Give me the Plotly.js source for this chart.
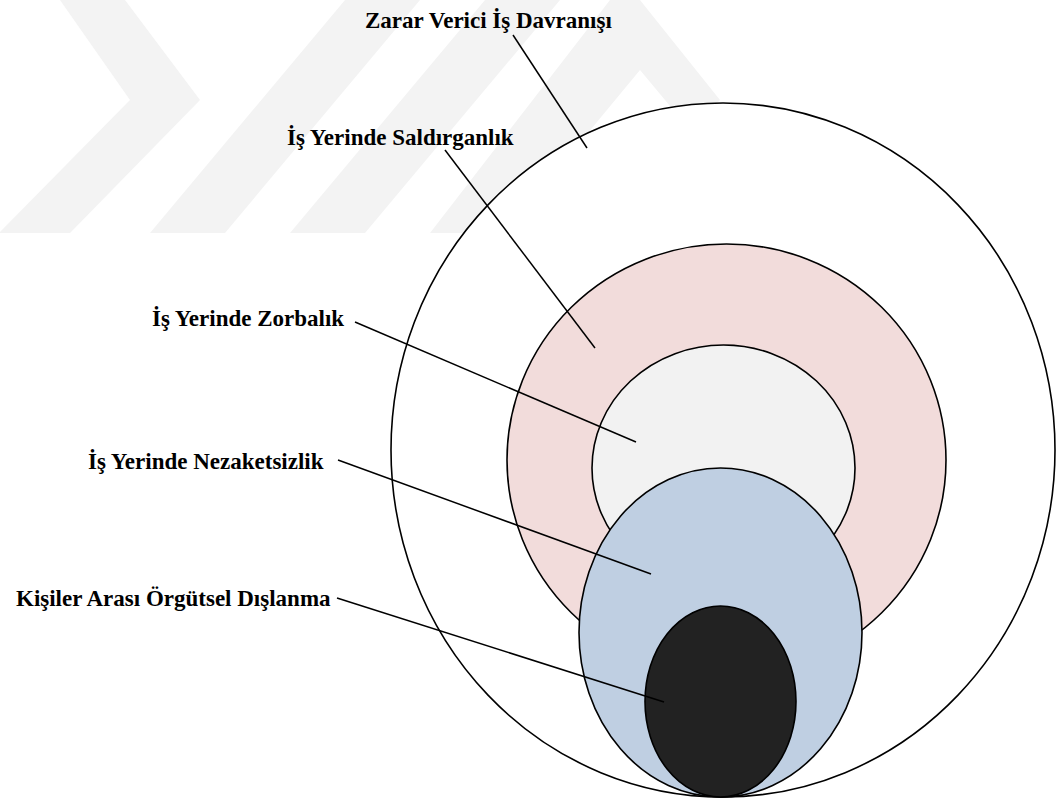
<!DOCTYPE html>
<html>
<head>
<meta charset="utf-8">
<script src="https://cdn.plot.ly/plotly-3.0.1.min.js"></script>
<style>html,body{margin:0;padding:0;background:#fff;}#chart{width:1057px;height:800px;}</style>
</head>
<body>
<div id="chart"></div>
<script>
// Nested concepts (outer to inner)
const labels = ['Zarar Verici İş Davranışı', 'İş Yerinde Saldırganlık', 'İş Yerinde Zorbalık', 'İş Yerinde Nezaketsizlik', 'Kişiler Arası Örgütsel Dışlanma'];
const centerX = [723, 726.5, 723.5, 720.5, 720.5];
const centerY = [450, 460, 468, 632.5, 701.5];
const radiusX = [332, 219.5, 131.5, 141.5, 75.5];
const radiusY = [347, 216, 123, 164.5, 95.5];
const fills = ['#ffffff', '#f2dcdb', '#f2f2f2', '#bfcfe2', '#222222'];

// Label anchor (right edge of text) and leader lines
const labelX = [614, 516, 346, 326, 333];
const labelY = [20, 137, 318, 461, 598];
const lineX0 = [513, 445, 355, 338, 337];
const lineY0 = [35, 150, 322, 460, 598];
const lineX1 = [587, 595, 636, 651, 664];
const lineY1 = [148, 348, 442, 574, 702];

// Background watermark bands (decoration)
const watermark = [
  'M60,0 L125,0 L200,100 L70,233 L0,233 L0,232 L130,100 Z',
  'M150,233 L225,233 L420,0 L345,0 Z',
  'M290,233 L365,233 L560,0 L485,0 Z',
  'M430,233 L505,233 L640,70 L690,130 L720,100 L640,0 L610,0 Z'
];

const shapes = [];
watermark.forEach(p => shapes.push({type: 'path', xref: 'x', yref: 'y', path: p, fillcolor: '#f3f3f3', line: {width: 0}, layer: 'below'}));
for (let i = 0; i < labels.length; i++) {
  shapes.push({
    type: 'circle', xref: 'x', yref: 'y',
    x0: centerX[i] - radiusX[i], x1: centerX[i] + radiusX[i],
    y0: centerY[i] - radiusY[i], y1: centerY[i] + radiusY[i],
    fillcolor: fills[i], line: {color: '#000000', width: 1.6}, layer: 'above'
  });
}
for (let i = 0; i < labels.length; i++) {
  shapes.push({
    type: 'line', xref: 'x', yref: 'y',
    x0: lineX0[i], y0: lineY0[i], x1: lineX1[i], y1: lineY1[i],
    line: {color: '#000000', width: 1.5}, layer: 'above'
  });
}

const annotations = labels.map((t, i) => ({
  x: labelX[i], y: labelY[i], xref: 'x', yref: 'y',
  text: t, showarrow: false,
  xanchor: 'right', yanchor: 'middle',
  font: {family: 'Liberation Serif', size: 23, color: '#000000', weight: 700}
}));

const layout = {
  width: 1057, height: 800,
  margin: {l: 0, r: 0, t: 0, b: 0},
  paper_bgcolor: '#ffffff', plot_bgcolor: '#ffffff',
  font: {family: 'Liberation Serif'},
  xaxis: {range: [0, 1057], visible: false, fixedrange: true},
  yaxis: {range: [800, 0], visible: false, fixedrange: true},
  showlegend: false,
  shapes: shapes,
  annotations: annotations
};

Plotly.newPlot('chart', [{x: [], y: [], type: 'scatter', mode: 'markers', hoverinfo: 'skip'}], layout, {displayModeBar: false, staticPlot: true});
</script>
</body>
</html>
